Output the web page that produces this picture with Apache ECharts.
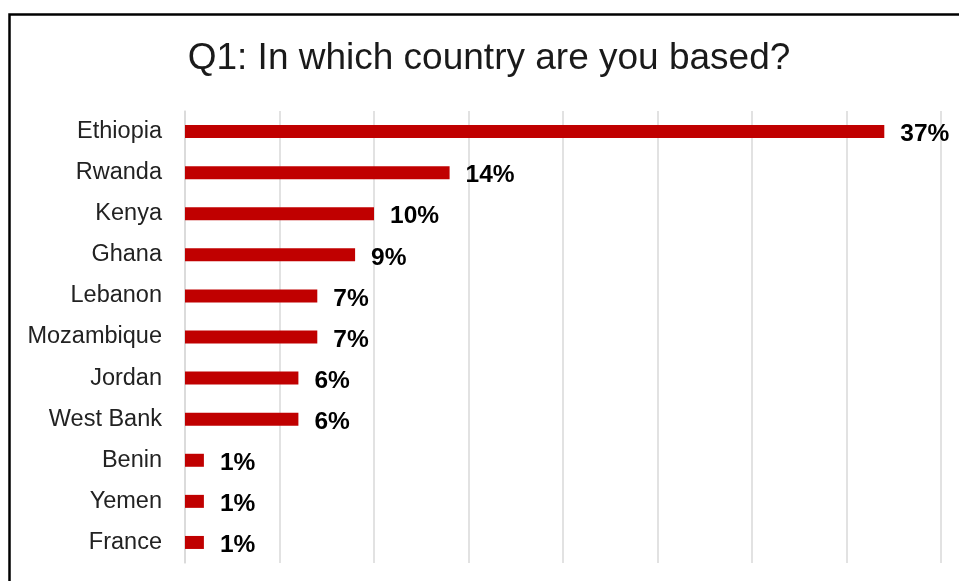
<!DOCTYPE html>
<html>
<head>
<meta charset="utf-8">
<script src="https://cdn.jsdelivr.net/npm/echarts@6/dist/echarts.min.js"></script>
<style>
html,body{margin:0;padding:0;background:#fff;}
#chart{width:959px;height:581px;}
</style>
</head>
<body>
<div id="chart"></div>
<script>
const titleText = 'Q1: In which country are you based?';
const countries = ['Ethiopia','Rwanda','Kenya','Ghana','Lebanon','Mozambique','Jordan','West Bank','Benin','Yemen','France'];
const shares = [37, 14, 10, 9, 7, 7, 6, 6, 1, 1, 1];

const chart = echarts.init(document.getElementById('chart'));
chart.setOption({
  backgroundColor: '#fff',
  animation: false,
  title: {
    text: titleText,
    left: 484,
    textAlign: 'center',
    top: 35,
    textStyle: { fontFamily: 'Liberation Sans', fontSize: 37, fontWeight: 'normal', color: '#1a1a1a' }
  },
  graphic: [
    { type: 'polyline', shape: { points: [[9.5, 581], [9.5, 14.5], [959, 14.5]] },
      style: { stroke: '#000', lineWidth: 2.5, fill: null } }
  ],
  grid: { left: 185, right: 18, top: 111, bottom: 18 },
  xAxis: {
    type: 'value', min: 0, max: 40, interval: 5,
    axisLabel: { show: false }, axisTick: { show: false }, axisLine: { show: false },
    splitLine: { show: true, lineStyle: { color: '#d9d9d9', width: 1.5 } }
  },
  yAxis: {
    type: 'category', data: countries, inverse: true,
    axisTick: { show: false },
    axisLine: { show: true, lineStyle: { color: '#d9d9d9', width: 1.5 } },
    axisLabel: { fontFamily: 'Liberation Sans', fontSize: 23.5, color: '#222', margin: 23 }
  },
  series: [{
    type: 'bar', data: shares, barWidth: 13,
    itemStyle: { color: '#C00000' },
    label: {
      show: true, position: 'right', distance: 16, offset: [0, 3],
      formatter: p => p.value + '%',
      fontFamily: 'Liberation Sans', fontSize: 24.5, fontWeight: 'bold', color: '#000'
    }
  }]
});
</script>
</body>
</html>
